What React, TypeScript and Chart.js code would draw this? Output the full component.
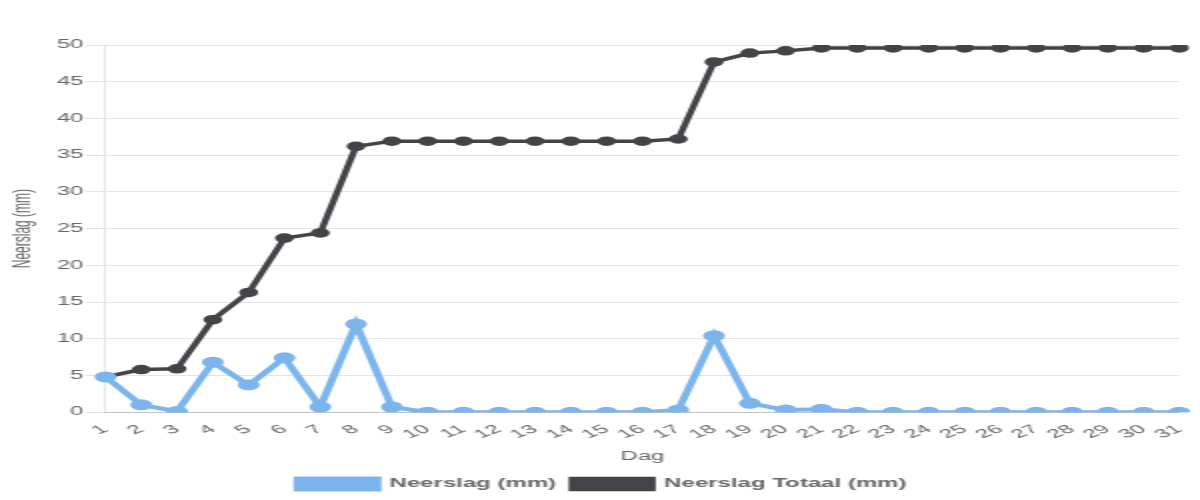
import React, { useEffect, useRef } from "react";
import { Chart, registerables } from "chart.js";

Chart.register(...registerables);

const days: string[] = [
  "1", "2", "3", "4", "5", "6", "7", "8", "9", "10", "11", "12", "13", "14", "15", "16",
  "17", "18", "19", "20", "21", "22", "23", "24", "25", "26", "27", "28", "29", "30", "31",
];

const neerslag: number[] = [
  4.8, 1.0, 0.1, 6.8, 3.7, 7.4, 0.7, 12.0, 0.7, 0, 0, 0, 0, 0, 0, 0,
  0.3, 10.4, 1.2, 0.3, 0.4, 0, 0, 0, 0, 0, 0, 0, 0, 0, 0,
];

const neerslagTotaal: number[] = [
  4.8, 5.8, 5.9, 12.6, 16.3, 23.7, 24.4, 36.2, 36.9, 36.9, 36.9, 36.9, 36.9, 36.9, 36.9, 36.9,
  37.2, 47.7, 48.9, 49.2, 49.6, 49.6, 49.6, 49.6, 49.6, 49.6, 49.6, 49.6, 49.6, 49.6, 49.6,
];

const seriesNames: string[] = ["Neerslag (mm)", "Neerslag Totaal (mm)"];
const yTitle = "Neerslag (mm)";
const xTitle = "Dag";

const FONT = "Arial, 'Liberation Sans', sans-serif";

export default function App() {
  const ref = useRef<HTMLCanvasElement | null>(null);

  useEffect(() => {
    const canvas = ref.current;
    if (!canvas) return;
    const chart = new Chart(canvas, {
      type: "line",
      data: {
        labels: days,
        datasets: [
          {
            label: seriesNames[0],
            data: neerslag,
            borderColor: "#7cb5ec",
            backgroundColor: "#7cb5ec",
            pointBackgroundColor: "#7cb5ec",
            pointBorderColor: "#7cb5ec",
            borderWidth: 4,
            pointRadius: 3.5,
            fill: false,
            tension: 0,
          },
          {
            label: seriesNames[1],
            data: neerslagTotaal,
            borderColor: "#434348",
            backgroundColor: "#434348",
            pointBackgroundColor: "#434348",
            pointBorderColor: "#434348",
            borderWidth: 3.5,
            pointRadius: 3,
            fill: false,
            tension: 0,
          },
        ],
      },
      options: {
        responsive: false,
        animation: false,
        layout: { padding: { top: 45, left: 2, right: 0, bottom: 0 } },
        plugins: {
          tooltip: { enabled: false },
          legend: {
            position: "bottom",
            labels: {
              boxWidth: 40,
              boxHeight: 11,
              color: "#666",
              font: { family: FONT, size: 12, weight: "bold" },
              padding: 8,
            },
          },
        },
        scales: {
          x: {
            grid: { display: false },
            border: { display: true, color: "rgba(0,0,0,0.15)" },
            ticks: {
              color: "#666",
              font: { family: FONT, size: 12 },
              minRotation: 35,
              maxRotation: 35,
              autoSkip: false,
              padding: 2,
            },
            title: {
              display: true,
              text: xTitle,
              color: "#666",
              font: { family: FONT, size: 12 },
              padding: { top: 6, bottom: 6 },
            },
          },
          y: {
            min: 0,
            max: 50,
            ticks: {
              stepSize: 5,
              color: "#666",
              font: { family: FONT, size: 12 },
              padding: 1,
            },
            grid: {
              color: "rgba(0,0,0,0.1)",
              tickLength: 10,
            },
            border: { display: true, color: "rgba(0,0,0,0.1)" },
            title: {
              display: true,
              text: yTitle,
              color: "#666",
              font: { family: FONT, size: 12 },
              padding: { top: 2, bottom: 9 },
            },
          },
        },
      },
    });
    return () => chart.destroy();
  }, []);

  return (
    <div
      style={{
        position: "absolute",
        left: 0,
        top: 0,
        width: 600,
        height: 500,
        transform: "scale(2, 1)",
        transformOrigin: "0 0",
        background: "#fff",
      }}
    >
      <canvas ref={ref} width={600} height={500} />
    </div>
  );
}
